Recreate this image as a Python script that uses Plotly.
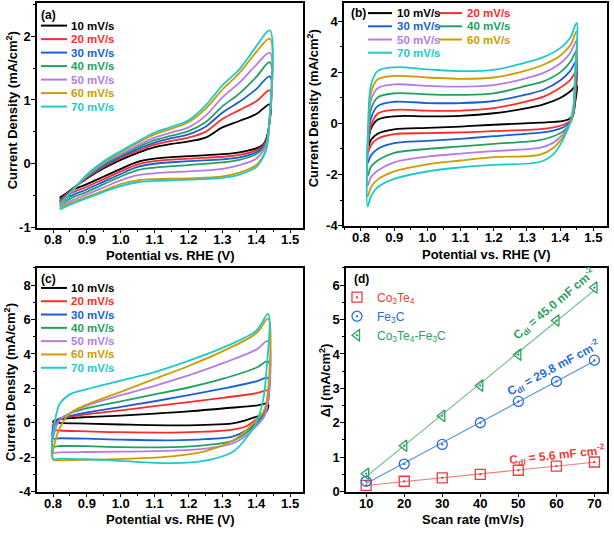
import numpy as np
import plotly.graph_objects as go

FONT = "Liberation Sans, Arial, sans-serif"
W, H = 614, 537

RATES = ["10 mV/s", "20 mV/s", "30 mV/s", "40 mV/s", "50 mV/s", "60 mV/s", "70 mV/s"]
COLORS = ["#000000", "#ff2b2b", "#1a5fd6", "#23a060", "#b57be8", "#cc9c00", "#1ccaca"]

# ---------------- Panel (a) ----------------
A_V_AN = [0.82, 0.85, 0.9, 0.95, 1.0, 1.05, 1.1, 1.15, 1.2, 1.25, 1.3, 1.35, 1.4, 1.44]
A_J_AN = [
    [-0.55, -0.42, -0.23, -0.07, 0.06, 0.17, 0.26, 0.31, 0.35, 0.41, 0.57, 0.67, 0.78, 0.93],
    [-0.57, -0.43, -0.22, -0.05, 0.09, 0.20, 0.30, 0.36, 0.41, 0.50, 0.70, 0.84, 0.98, 1.15],
    [-0.59, -0.44, -0.21, -0.03, 0.11, 0.23, 0.33, 0.40, 0.46, 0.58, 0.80, 0.97, 1.17, 1.37],
    [-0.61, -0.45, -0.20, -0.01, 0.13, 0.26, 0.37, 0.44, 0.51, 0.65, 0.90, 1.10, 1.36, 1.59],
    [-0.63, -0.46, -0.19, 0.01, 0.15, 0.29, 0.41, 0.49, 0.57, 0.75, 1.04, 1.27, 1.55, 1.74],
    [-0.65, -0.47, -0.18, 0.03, 0.18, 0.33, 0.46, 0.55, 0.65, 0.86, 1.16, 1.42, 1.75, 1.96],
    [-0.67, -0.48, -0.17, 0.04, 0.20, 0.35, 0.49, 0.58, 0.68, 0.91, 1.23, 1.48, 1.84, 2.09],
]
A_V_CA = [1.438, 1.43, 1.42, 1.40, 1.35, 1.3, 1.2, 1.1, 1.05, 1.0, 0.95, 0.9, 0.85, 0.82]
A_J_CA = [
    [0.60, 0.40, 0.30, 0.24, 0.18, 0.15, 0.12, 0.08, 0.03, -0.08, -0.20, -0.32, -0.43, -0.53],
    [0.60, 0.38, 0.28, 0.21, 0.14, 0.11, 0.08, 0.04, -0.01, -0.12, -0.24, -0.36, -0.47, -0.57],
    [0.60, 0.36, 0.26, 0.18, 0.10, 0.07, 0.04, 0.00, -0.05, -0.16, -0.28, -0.40, -0.51, -0.61],
    [0.60, 0.34, 0.24, 0.15, 0.06, 0.02, -0.02, -0.06, -0.10, -0.20, -0.32, -0.44, -0.55, -0.64],
    [0.60, 0.30, 0.20, 0.08, -0.02, -0.08, -0.12, -0.15, -0.18, -0.26, -0.37, -0.48, -0.59, -0.67],
    [0.60, 0.25, 0.12, -0.02, -0.14, -0.20, -0.23, -0.24, -0.26, -0.32, -0.42, -0.52, -0.62, -0.70],
    [0.60, 0.23, 0.10, -0.05, -0.17, -0.22, -0.25, -0.27, -0.29, -0.35, -0.44, -0.54, -0.64, -0.72],
]

# ---------------- Panel (b) ----------------
B_V_AN = [0.82, 0.822, 0.83, 0.85, 0.9, 1.0, 1.1, 1.2, 1.3, 1.35, 1.4, 1.43, 1.45]
B_J_AN = [
    [-1.00, -0.75, -0.20, 0.15, 0.28, 0.28, 0.30, 0.40, 0.60, 0.75, 1.00, 1.25, 1.50],
    [-1.20, -0.80, -0.10, 0.38, 0.53, 0.50, 0.50, 0.60, 0.87, 1.05, 1.40, 1.70, 2.05],
    [-1.55, -0.70, 0.20, 0.68, 0.85, 0.80, 0.80, 0.88, 1.14, 1.32, 1.68, 2.05, 2.46],
    [-2.05, -0.60, 0.55, 1.02, 1.18, 1.14, 1.12, 1.18, 1.48, 1.65, 2.00, 2.40, 2.85],
    [-2.45, -0.40, 0.90, 1.38, 1.53, 1.47, 1.44, 1.50, 1.78, 1.98, 2.35, 2.75, 3.25],
    [-2.85, -0.20, 1.20, 1.72, 1.86, 1.80, 1.75, 1.80, 2.08, 2.30, 2.65, 3.05, 3.62],
    [-3.25, 0.00, 1.50, 2.05, 2.20, 2.12, 2.05, 2.10, 2.40, 2.60, 2.95, 3.35, 3.94],
]
B_V_CA = [1.445, 1.44, 1.43, 1.41, 1.38, 1.34, 1.2, 1.1, 1.0, 0.9, 0.85, 0.83, 0.82]
B_J_CA = [
    [0.80, 0.40, 0.20, 0.10, 0.06, 0.03, -0.05, -0.12, -0.17, -0.23, -0.40, -0.65, -1.00],
    [1.00, 0.35, 0.10, -0.05, -0.15, -0.22, -0.30, -0.35, -0.38, -0.42, -0.60, -0.85, -1.20],
    [1.20, 0.40, 0.05, -0.15, -0.28, -0.36, -0.50, -0.60, -0.68, -0.77, -1.00, -1.25, -1.55],
    [1.40, 0.45, 0.00, -0.30, -0.50, -0.65, -0.80, -0.90, -1.00, -1.15, -1.45, -1.70, -2.05],
    [1.60, 0.50, 0.00, -0.40, -0.75, -0.95, -1.08, -1.18, -1.30, -1.52, -1.85, -2.10, -2.45],
    [1.80, 0.55, 0.00, -0.50, -0.95, -1.22, -1.32, -1.45, -1.60, -1.88, -2.20, -2.50, -2.85],
    [2.00, 0.70, 0.05, -0.60, -1.20, -1.50, -1.62, -1.72, -1.88, -2.17, -2.50, -2.85, -3.25],
]

# ---------------- Panel (c) ----------------
C_V_AN = [0.8, 0.805, 0.82, 0.85, 0.9, 1.0, 1.1, 1.2, 1.3, 1.4, 1.435]
C_J_AN = [
    [0.05, 0.15, 0.20, 0.27, 0.33, 0.42, 0.53, 0.66, 0.83, 1.00, 1.10],
    [-0.40, 0.10, 0.25, 0.35, 0.50, 0.72, 0.97, 1.20, 1.45, 1.72, 1.86],
    [-0.90, 0.00, 0.25, 0.40, 0.60, 0.92, 1.25, 1.60, 1.98, 2.40, 2.60],
    [-1.35, -0.20, 0.20, 0.55, 0.85, 1.25, 1.65, 2.05, 2.55, 3.20, 3.57],
    [-1.72, -0.50, 0.15, 0.55, 1.00, 1.60, 2.15, 2.75, 3.45, 4.25, 4.75],
    [-2.15, -1.20, -0.30, 0.55, 1.05, 1.80, 2.55, 3.30, 4.15, 5.20, 6.05],
    [-2.10, 0.00, 1.10, 1.65, 1.95, 2.45, 2.95, 3.60, 4.35, 5.35, 6.33],
]
C_V_CA = [1.43, 1.42, 1.4, 1.37, 1.33, 1.25, 1.15, 1.0, 0.9, 0.82, 0.8]
C_J_CA = [
    [0.65, 0.50, 0.35, 0.15, -0.04, -0.12, -0.15, -0.10, -0.05, -0.01, 0.05],
    [0.90, 0.55, 0.20, -0.20, -0.40, -0.52, -0.57, -0.55, -0.50, -0.45, -0.40],
    [0.90, 0.45, 0.00, -0.45, -0.80, -0.95, -1.02, -0.98, -0.92, -0.90, -0.90],
    [0.80, 0.35, -0.10, -0.60, -1.05, -1.30, -1.42, -1.42, -1.36, -1.35, -1.35],
    [0.70, 0.25, -0.20, -0.75, -1.20, -1.50, -1.62, -1.68, -1.70, -1.72, -1.72],
    [1.20, 0.60, 0.15, -0.45, -1.05, -1.65, -1.95, -2.10, -2.15, -2.17, -2.15],
    [3.00, 1.30, 0.00, -0.90, -1.70, -2.20, -2.35, -2.22, -2.12, -2.08, -2.10],
]

# ---------------- Panel (d) ----------------
SCAN_RATE = [10, 20, 30, 40, 50, 60, 70]
DJ_CO3TE4 = [0.18, 0.30, 0.40, 0.50, 0.62, 0.74, 0.86]
DJ_FE3C = [0.30, 0.80, 1.37, 2.00, 2.62, 3.20, 3.82]
DJ_COMPOSITE = [0.52, 1.33, 2.20, 3.08, 3.98, 4.97, 5.93]
D_NAMES = ["Co<sub>3</sub>Te<sub>4</sub>", "Fe<sub>3</sub>C", "Co<sub>3</sub>Te<sub>4</sub>-Fe<sub>3</sub>C"]
D_CDL = ["C<sub>dl</sub> = 5.6 mF cm<sup>-2</sup>", "C<sub>dl</sub> = 29.8 mF cm<sup>-2</sup>",
         "C<sub>dl</sub> = 45.0 mF cm<sup>-2</sup>"]

# tick labels
A_YTICKS = [-1, 0, 1, 2]
B_YTICKS = [-4, -2, 0, 2, 4]
C_YTICKS = [-4, -2, 0, 2, 4, 6, 8]
D_YTICKS = [0, 1, 2, 3, 4, 5, 6]


def px(x):
    return x / W


def py(y):
    return 1 - y / H


fig = go.Figure()

cv_panels = [
    ("x", "y", A_V_AN, A_J_AN, A_V_CA, A_J_CA),
    ("x2", "y2", B_V_AN, B_J_AN, B_V_CA, B_J_CA),
    ("x3", "y3", C_V_AN, C_J_AN, C_V_CA, C_J_CA),
]
for xa, ya, van, jan, vca, jca in cv_panels:
    for i in range(len(RATES)):
        fig.add_trace(go.Scatter(
            x=van + vca, y=jan[i] + jca[i], mode="lines",
            line=dict(color=COLORS[i], width=1.8, shape="spline", smoothing=1.0),
            xaxis=xa, yaxis=ya, showlegend=False, hoverinfo="skip"))

# panel d
D_SERIES = [DJ_CO3TE4, DJ_FE3C, DJ_COMPOSITE]
D_MCOL = ["#ee3b3b", "#2a6fd6", "#2ea060"]
D_LCOL = ["#f07c7c", "#5b8fe0", "#62b988"]
D_SYM = ["square-open-dot", "circle-open-dot", "triangle-left-open-dot"]
for k, ser in enumerate(D_SERIES):
    slope, icpt = np.polyfit(SCAN_RATE, ser, 1)
    fit = [slope * s + icpt for s in SCAN_RATE]
    fig.add_trace(go.Scatter(x=SCAN_RATE, y=fit, mode="lines",
                             line=dict(color=D_LCOL[k], width=1.1),
                             xaxis="x4", yaxis="y4", showlegend=False, hoverinfo="skip"))
for k, ser in enumerate(D_SERIES):
    fig.add_trace(go.Scatter(
        x=SCAN_RATE, y=ser, mode="markers",
        marker=dict(symbol=D_SYM[k], size=10, color=D_MCOL[k], line=dict(width=1.3, color=D_MCOL[k])),
        name='<span style="color:%s">%s</span>' % (D_MCOL[k], D_NAMES[k]),
        xaxis="x4", yaxis="y4", showlegend=True, hoverinfo="skip"))

tickfont = dict(family=FONT, size=13, color="black", weight="bold")


def axis(domain, rng, anchor, standoff, **kw):
    d = dict(domain=domain, range=rng, anchor=anchor, showline=True, linecolor="black",
             linewidth=1.5, mirror=True, ticks="outside", ticklen=4, tickwidth=1.3,
             tickcolor="black", showgrid=False, zeroline=False, tickfont=tickfont,
             ticklabelstandoff=standoff)
    d.update(kw)
    return d


def minor(dt):
    return dict(ticks="outside", ticklen=2.5, tickwidth=1.2, tickcolor="black", dtick=dt,
                tick0=0, showgrid=False)


XA = [px(37), px(303)]
XB = [px(344), px(607)]
XD = [px(346), px(607)]
YT = [py(231), py(3)]
YTB = [py(229), py(3)]
YBOT = [py(499), py(272)]
XS, YS = -5, -2

fig.update_layout(
    width=W, height=H, margin=dict(l=0, r=0, t=0, b=0),
    paper_bgcolor="white", plot_bgcolor="white",
    font=dict(family=FONT, color="black"),
    xaxis=axis(XA, [0.7527, 1.538], "y", XS, dtick=0.1, tick0=0.8, tickformat=".1f", minor=minor(0.05)),
    yaxis=axis(YT, [-1, 2.52], "x", YS, tickmode="array", tickvals=A_YTICKS,
               ticktext=[str(v) for v in A_YTICKS], minor=minor(0.5)),
    xaxis2=axis(XB, [0.7488, 1.5412], "y2", XS, dtick=0.1, tick0=0.8, tickformat=".1f", minor=minor(0.05)),
    yaxis2=axis(YTB, [-4, 4.72], "x2", YS, tickmode="array", tickvals=B_YTICKS,
                ticktext=[str(v) for v in B_YTICKS], minor=minor(1)),
    xaxis3=axis(XA, [0.7527, 1.538], "y3", XS, dtick=0.1, tick0=0.8, tickformat=".1f", minor=minor(0.05)),
    yaxis3=axis(YBOT, [-4, 9], "x3", YS, tickmode="array", tickvals=C_YTICKS,
                ticktext=[str(v) for v in C_YTICKS], minor=minor(1)),
    xaxis4=axis(XD, [4.7, 73.3], "y4", XS, tickmode="array", tickvals=SCAN_RATE,
                ticktext=[str(v) for v in SCAN_RATE]),
    yaxis4=axis(YBOT, [0, 6.5], "x4", YS, tickmode="array", tickvals=D_YTICKS,
                ticktext=[str(v) for v in D_YTICKS], minor=minor(0.5)),
    legend=dict(x=px(337), y=py(287), xanchor="left", yanchor="top", bgcolor="rgba(0,0,0,0)",
                font=dict(family=FONT, size=12), tracegroupgap=0, itemwidth=30),
)

shapes = []
annotations = []


def text(x, y, s, size=13, color="black", bold=True, xanchor="center", angle=0, ref=("paper", "paper")):
    annotations.append(dict(x=x, y=y, xref=ref[0], yref=ref[1], text=s, showarrow=False,
                            xanchor=xanchor, yanchor="middle", textangle=angle,
                            font=dict(family=FONT, size=size, color=color,
                                      weight="bold" if bold else "normal")))


def legend_item(x0, x1, xt, y, i):
    shapes.append(dict(type="line", xref="paper", yref="paper", x0=px(x0), x1=px(x1),
                       y0=py(y), y1=py(y), line=dict(color=COLORS[i], width=2)))
    text(px(xt), py(y), RATES[i], size=11.5, color=COLORS[i], xanchor="left")


# legends (a) and (c)
for i in range(7):
    legend_item(41, 67, 69, 26 + 13.7 * i, i)
    legend_item(41, 67, 69, 292.3 + 13.5 * i, i)
# legend (b): two columns
for i in range(7):
    col, row = i % 2, i // 2
    if col == 0:
        legend_item(368, 392, 395, 13.3 + 13.4 * row, i)
    else:
        legend_item(439, 462, 465, 13.3 + 13.4 * row, i)

# panel labels
text(px(39), py(15), "(a)", size=12, xanchor="left")
text(px(349), py(13.5), "(b)", size=12, xanchor="left")
text(px(39), py(283), "(c)", size=12, xanchor="left")
text(px(352), py(283), "(d)", size=12, xanchor="left")

# axis titles
text(px(170), py(259), "Potential vs. RHE (V)")
text(px(486), py(258), "Potential vs. RHE (V)")
text(px(170), py(527), "Potential vs. RHE (V)")
text(px(473), py(527), "Scan rate (mV/s)")
text(px(12), py(112), "Current Density (mA/cm<sup>2</sup>)", angle=-90)
text(px(313), py(110), "Current Density (mA/cm<sup>2</sup>)", angle=-90)
text(px(10), py(388), "Current Density (mA/cm<sup>2</sup>)", angle=-90)
text(px(325), py(386), "Δj (mA/cm<sup>2</sup>)", angle=-90)

# Cdl labels in data coordinates of panel (d)
text(60.2, 1.07, D_CDL[0], size=12, color=D_MCOL[0], angle=-6, ref=("x4", "y4"))
text(59.2, 3.6, D_CDL[1], size=12, color=D_MCOL[1], angle=-28, ref=("x4", "y4"))
text(59.4, 5.45, D_CDL[2], size=12, color=D_MCOL[2], angle=-40, ref=("x4", "y4"))

fig.update_layout(shapes=shapes, annotations=annotations)
fig.write_html("out.html", config={"displayModeBar": False},
               post_script="document.body.style.margin='0';")
